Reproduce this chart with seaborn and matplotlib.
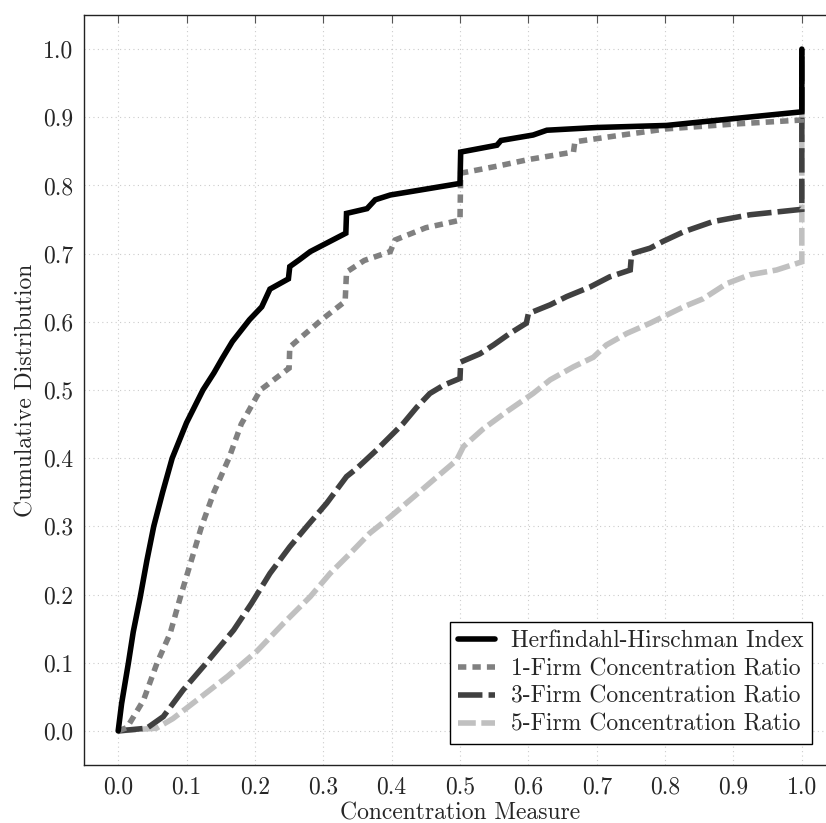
import matplotlib
matplotlib.use("Agg")
import matplotlib.pyplot as plt
import seaborn as sns
import numpy as np
import pandas as pd
from matplotlib.lines import Line2D
from matplotlib.ticker import FormatStrFormatter

series_names = ["Herfindahl-Hirschman Index", "1-Firm Concentration Ratio",
                "3-Firm Concentration Ratio", "5-Firm Concentration Ratio"]

hhi_x = [0, 0.005, 0.015, 0.022, 0.032, 0.042, 0.052, 0.065, 0.079, 0.1, 0.124, 0.14, 0.152,
         0.167, 0.192, 0.21, 0.222, 0.249, 0.251, 0.265, 0.281, 0.333, 0.334, 0.364, 0.376, 0.398,
         0.5, 0.501, 0.554, 0.56, 0.607, 0.627, 0.7, 0.802, 0.9, 1.0, 1.0]
hhi_y = [0, 0.04, 0.1, 0.145, 0.195, 0.25, 0.3, 0.35, 0.4, 0.452, 0.5, 0.525, 0.546,
         0.571, 0.603, 0.622, 0.648, 0.663, 0.681, 0.691, 0.703, 0.730, 0.759, 0.766, 0.779, 0.786,
         0.803, 0.849, 0.859, 0.866, 0.874, 0.881, 0.885, 0.888, 0.898, 0.908, 1.0]

cr1_x = [0, 0.013, 0.037, 0.057, 0.076, 0.092, 0.107, 0.122, 0.14, 0.162, 0.18, 0.208, 0.25, 0.251,
         0.266, 0.30, 0.332, 0.334, 0.36, 0.398, 0.405, 0.45, 0.5, 0.501, 0.558, 0.6, 0.666, 0.668,
         0.73, 0.802, 0.9, 1.0, 1.0]
cr1_y = [0, 0.005, 0.045, 0.1, 0.143, 0.2, 0.25, 0.3, 0.35, 0.4, 0.45, 0.5, 0.532, 0.563,
         0.576, 0.605, 0.63, 0.673, 0.69, 0.703, 0.72, 0.738, 0.749, 0.818, 0.829, 0.838, 0.849, 0.864,
         0.873, 0.883, 0.89, 0.896, 1.0]

cr3_x = [0, 0.042, 0.066, 0.095, 0.125, 0.169, 0.195, 0.222, 0.251, 0.276, 0.305, 0.334, 0.349,
         0.378, 0.398, 0.417, 0.437, 0.456, 0.476, 0.5, 0.501, 0.529, 0.549, 0.573, 0.597, 0.6,
         0.632, 0.656, 0.69, 0.719, 0.749, 0.751, 0.778, 0.797, 0.827, 0.87, 0.924, 1.0, 1.0]
cr3_y = [0, 0.004, 0.021, 0.06, 0.095, 0.148, 0.187, 0.231, 0.27, 0.3, 0.334, 0.373, 0.385,
         0.412, 0.432, 0.451, 0.475, 0.495, 0.507, 0.517, 0.541, 0.553, 0.566, 0.583, 0.598, 0.612,
         0.625, 0.637, 0.651, 0.666, 0.676, 0.70, 0.708, 0.718, 0.732, 0.747, 0.757, 0.765, 1.0]

cr5_x = [0, 0.056, 0.08, 0.115, 0.16, 0.203, 0.242, 0.281, 0.31, 0.339, 0.368, 0.398, 0.432, 0.461,
         0.495, 0.505, 0.534, 0.568, 0.607, 0.632, 0.666, 0.695, 0.714, 0.744, 0.778, 0.827, 0.856,
         0.89, 0.924, 0.963, 1.0, 1.0]
cr5_y = [0, 0.004, 0.018, 0.045, 0.08, 0.117, 0.158, 0.197, 0.231, 0.26, 0.29, 0.314, 0.343, 0.368,
         0.397, 0.417, 0.443, 0.468, 0.495, 0.515, 0.534, 0.548, 0.566, 0.583, 0.598, 0.622, 0.634,
         0.656, 0.669, 0.676, 0.688, 1.0]

ticks = [0.0, 0.1, 0.2, 0.3, 0.4, 0.5, 0.6, 0.7, 0.8, 0.9, 1.0]

sns.set_theme(style="white")
plt.rcParams["font.family"] = ["cmr10", "DejaVu Serif"]
plt.rcParams["mathtext.fontset"] = "cm"
plt.rcParams["axes.formatter.use_mathtext"] = True
plt.rcParams["axes.unicode_minus"] = False

FS = 17
fig = plt.figure(figsize=(8.26, 8.23), dpi=100)
ax = fig.add_axes([84 / 826, (823 - 765) / 823, 752 / 826, 750 / 823])

colors = ["#000000", "#808080", "#404040", "#c0c0c0"]
dash_patterns = [None, (1.5, 1.1), (4.4, 1.1), (3.2, 1.0)]
data = [(hhi_x, hhi_y), (cr1_x, cr1_y), (cr3_x, cr3_y), (cr5_x, cr5_y)]
lw = 4.0

# draw in reverse so HHI sits on top
for i in [3, 2, 1, 0]:
    xs, ys = data[i]
    df = pd.DataFrame({"x": xs, "y": ys})
    n_before = len(ax.lines)
    sns.lineplot(data=df, x="x", y="y", sort=False, estimator=None, ax=ax,
                 color=colors[i], linewidth=lw, zorder=5 - i)
    line = ax.lines[n_before]
    line.set_solid_joinstyle("miter")
    if dash_patterns[i] is not None:
        line.set_linestyle((0, dash_patterns[i]))
        line.set_dash_capstyle("butt")
        line.set_dash_joinstyle("miter")

ax.set_xlim(-0.05, 1.05)
ax.set_ylim(-0.05, 1.05)
ax.set_xticks(ticks)
ax.set_yticks(ticks)
ax.xaxis.set_major_formatter(FormatStrFormatter("%.1f"))
ax.yaxis.set_major_formatter(FormatStrFormatter("%.1f"))
ax.tick_params(direction="in", length=6, width=0.8, color="#555555",
               top=True, right=True, labelsize=FS, pad=8)
ax.grid(True, linestyle=(0, (1, 3)), color="#cccccc", linewidth=0.8)
for s in ax.spines.values():
    s.set_color("#222222")
    s.set_linewidth(1.0)

ax.set_xlabel("Concentration Measure", fontsize=FS, labelpad=3)
ax.set_ylabel("Cumulative Distribution", fontsize=FS, labelpad=4)

handles = []
for i in range(4):
    h = Line2D([0], [0], color=colors[i], linewidth=lw)
    if dash_patterns[i] is not None:
        h.set_linestyle((0, dash_patterns[i]))
        h.set_dash_capstyle("butt")
    handles.append(h)
leg = ax.legend(handles, series_names, loc="upper right",
                bbox_to_anchor=((812 - 84) / 752, (765 - 622) / 750),
                borderaxespad=0, fontsize=FS, handlelength=1.55, handletextpad=0.7,
                labelspacing=0.24, fancybox=False, framealpha=1, edgecolor="#000000",
                borderpad=0.35)
leg.get_frame().set_linewidth(1.0)

fig.savefig("out.png", dpi=100)
